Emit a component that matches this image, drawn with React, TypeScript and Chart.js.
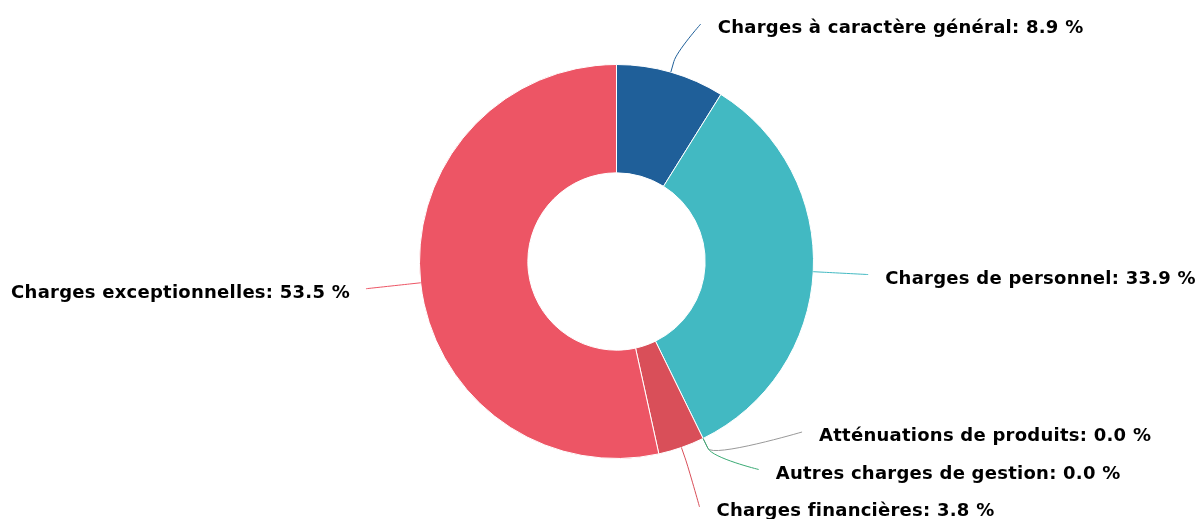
import React, { useEffect, useRef } from 'react';
import { Chart, registerables } from 'chart.js';

Chart.register(...registerables);

const categories = [
  'Charges à caractère général',
  'Charges de personnel',
  'Atténuations de produits',
  'Autres charges de gestion',
  'Charges financières',
  'Charges exceptionnelles',
];
const values = [8.9, 33.9, 0.0, 0.0, 3.8, 53.5];
const colors = ['#1f5f99', '#42b9c2', '#999999', '#3aaa74', '#d94f59', '#ed5565'];

type Item = { i: number; c: number; s: number; left: boolean; ny: number; nx: number; y: number };

function distribute(list: Item[], minY: number, maxY: number, S: number) {
  list.sort((a, b) => a.ny - b.ny || a.i - b.i);
  const clamp = (g: any) => {
    g.pos = Math.max(minY - S / 2, Math.min(g.pos, maxY + S / 2 - g.size));
  };
  let groups: any[] = list.map((it) => ({ items: [it], targets: [it.ny], pos: it.ny - S / 2, size: S }));
  groups.forEach(clamp);
  let changed = true;
  while (changed) {
    changed = false;
    for (let k = 0; k < groups.length - 1; k++) {
      const a = groups[k];
      const b = groups[k + 1];
      if (a.pos + a.size > b.pos + 0.01) {
        const targets = a.targets.concat(b.targets);
        const mean = targets.reduce((p: number, q: number) => p + q, 0) / targets.length;
        const size = a.size + b.size;
        const g = { items: a.items.concat(b.items), targets, size, pos: mean - size / 2 };
        clamp(g);
        groups.splice(k, 2, g);
        changed = true;
        break;
      }
    }
  }
  groups.forEach((g) => g.items.forEach((it: Item, j: number) => { it.y = g.pos + S / 2 + j * S; }));
}

const labelPlugin = {
  id: 'hcLabels',
  afterDraw(chart: any) {
    const ctx = chart.ctx;
    const meta = chart.getDatasetMeta(0);
    const arcs = meta.data;
    if (!arcs.length) return;
    const cx = arcs[0].x;
    const cy = arcs[0].y;
    const r = arcs[0].outerRadius;
    const dist = 55;
    const RL = r + dist;
    const H = chart.height;
    const S = 37.5;
    const topB = 24;
    const botB = H - 12;
    const items: Item[] = arcs.map((arc: any, i: number) => {
      const mid = (arc.startAngle + arc.endAngle) / 2;
      const c = Math.cos(mid);
      const s = Math.sin(mid);
      return { i, c, s, left: c < 0, ny: cy + s * RL, nx: cx + c * RL, y: 0 };
    });
    distribute(items.filter((it) => !it.left), topB, botB, S);
    distribute(items.filter((it) => it.left), topB, botB, S);

    const brk = Math.min(11, dist / 5);
    ctx.save();
    items.forEach((it) => {
      const sign = it.left ? -1 : 1;
      const dy = it.y - cy;
      const gx = Math.sqrt(Math.max(0, RL * RL - dy * dy));
      const xd = Math.max(Math.abs(it.nx - cx), gx);
      const ex = cx + sign * xd;
      const ey = it.y;
      const tx = cx + it.c * r;
      const ty = cy + it.s * r;
      const bx = cx + it.c * (r + brk);
      const by = cy + it.s * (r + brk);
      ctx.beginPath();
      ctx.moveTo(ex, ey);
      ctx.bezierCurveTo(ex, ey, 2 * bx - tx, 2 * by - ty, bx, by);
      ctx.lineTo(tx, ty);
      ctx.strokeStyle = colors[it.i];
      ctx.lineWidth = 1;
      ctx.stroke();

      const text = categories[it.i] + ': ' + values[it.i].toFixed(1) + ' %';
      ctx.font = 'bold 18px "DejaVu Sans"';
      (ctx as any).letterSpacing = '0.25px';
      ctx.fillStyle = '#000000';
      ctx.textBaseline = 'alphabetic';
      ctx.textAlign = it.left ? 'right' : 'left';
      ctx.fillText(text, it.left ? ex - 16 : ex + 17, ey + 9);
    });
    ctx.restore();
  },
};

export default function App() {
  const ref = useRef<HTMLCanvasElement>(null);
  useEffect(() => {
    document.body.style.margin = '0';
    const canvas = ref.current;
    if (!canvas) return;
    const chart = new Chart(canvas, {
      type: 'doughnut',
      data: {
        labels: categories,
        datasets: [
          {
            data: values,
            backgroundColor: colors,
            borderColor: '#ffffff',
            borderWidth: 1,
            hoverOffset: 0,
          },
        ],
      },
      options: {
        responsive: false,
        animation: false,
        devicePixelRatio: 1,
        cutout: '45%',
        layout: { padding: { top: 64, bottom: 60, left: 419, right: 386 } },
        plugins: {
          legend: { display: false },
          tooltip: { enabled: false },
        },
      },
      plugins: [labelPlugin],
    } as any);
    return () => chart.destroy();
  }, []);
  return (
    <div style={{ width: 1200, height: 519, background: '#ffffff' }}>
      <canvas ref={ref} width={1200} height={519} />
    </div>
  );
}
